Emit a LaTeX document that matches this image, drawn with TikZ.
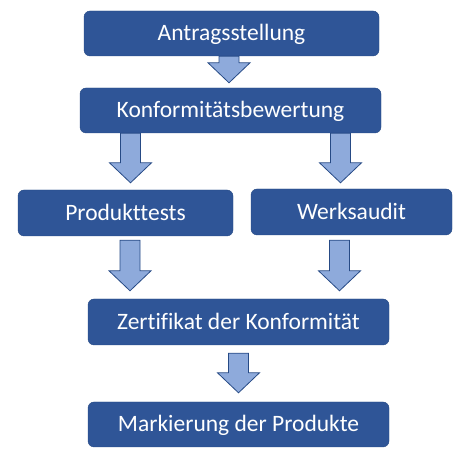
\documentclass[tikz,border=0pt]{standalone}
\usepackage{fontspec}
\setmainfont[Ligatures=NoCommon]{Carlito}
\usetikzlibrary{calc}
\definecolor{boxblue}{HTML}{2F5597}
\definecolor{boxline}{HTML}{264A85}
\definecolor{arrowblue}{HTML}{8EAADB}
\tikzset{
	box/.style={draw=boxline,fill=boxblue,rounded corners=6pt,text=white,
		font=\fontsize{23.5}{26}\selectfont,inner sep=0pt,
		minimum height=45pt,text height=15pt,text depth=0pt},
	blockarrow/.style={draw=boxline,fill=arrowblue,line width=0.8pt},
}
% block arrow: x position, from node, gap below it, to node, gap above it
\newcommand{\flowarrow}[5]{%
	\coordinate (top) at ([yshift=-#3pt]#1,0 |- #2.south);
	\coordinate (tip) at ([yshift=#5pt]#1,0 |- #4.north);
	\draw[blockarrow] ($(top)+(-10,0)$) -- ($(top)+(10,0)$) -- ($(tip)+(10,20)$)
		-- ($(tip)+(21,20)$) -- (tip) -- ($(tip)+(-21,20)$) -- ($(tip)+(-10,20)$) -- cycle;
}

\begin{document}
\begin{tikzpicture}[x=1pt,y=1pt]
	\useasboundingbox (0,0) rectangle (474,460);
	\node[box,minimum width=295pt] (antrag) at (231.5,426.5) {Antragsstellung};
	\node[box,minimum width=301pt] (bewertung) at (230.5,349.5) {Konformitätsbewertung};
	\node[box,minimum width=215pt,minimum height=46pt] (tests) at (125.5,247) {Produkttests};
	\node[box,minimum width=201pt,minimum height=46pt] (audit) at (351.5,248) {Werksaudit};
	\node[box,minimum width=301pt,minimum height=46pt] (zertifikat) at (238.5,138) {Zertifikat der Konformität};
	\node[box,minimum width=301pt] (markierung) at (238.5,35.5) {Markierung der Produkte};

	\flowarrow{229}{antrag}{0}{bewertung}{5}
	\flowarrow{130.5}{bewertung}{0}{tests}{7}
	\flowarrow{340.5}{bewertung}{0}{audit}{6}
	\flowarrow{130}{tests}{4}{zertifikat}{8}
	\flowarrow{339.5}{audit}{5}{zertifikat}{8}
	\flowarrow{238.5}{zertifikat}{8}{markierung}{9}
\end{tikzpicture}
\end{document}
